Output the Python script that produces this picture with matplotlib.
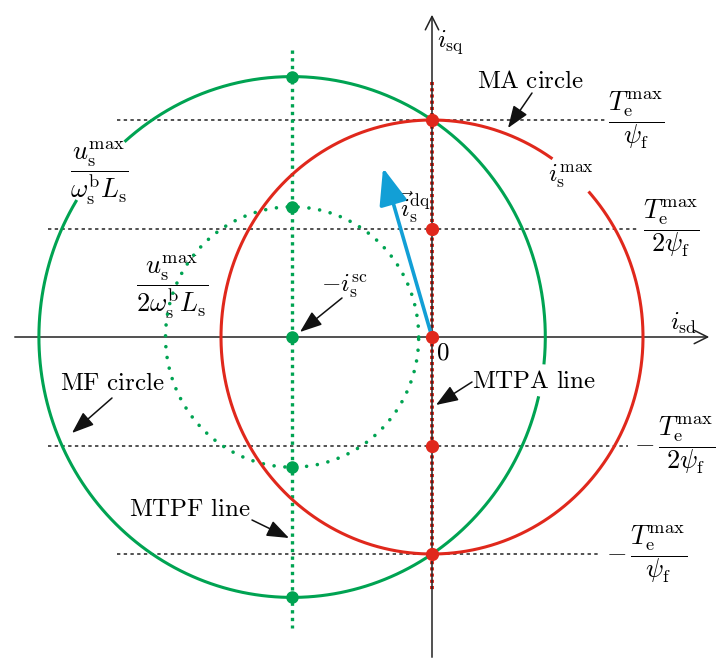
import numpy as np
import matplotlib.pyplot as plt

plt.rcParams['mathtext.fontset'] = 'cm'
plt.rcParams['font.family'] = 'DejaVu Serif'

# current-limit (MA) circle, short-circuit current and flux-limit (MF) circle
I_MAX = 1.0
I_SC = 0.663
MF_RADIUS = 1.2
MF_HALF_RADIUS = 0.6

# operating points on the MTPA line (torque levels) and MTPF line
mtpa_q = [1.0, 0.5, 0.0, -0.5, -1.0]
mtpf_q = [1.2, 0.6, 0.0, -0.6, -1.2]

# torque levels drawn as horizontal guides
torque_levels = [1.0, 0.5, -0.5, -1.0]
torque_labels = [r'$\dfrac{T_{\mathrm{e}}^{\mathrm{max}}}{\psi_{\mathrm{f}}}$',
                 r'$\dfrac{T_{\mathrm{e}}^{\mathrm{max}}}{2\psi_{\mathrm{f}}}$',
                 r'$-\,\dfrac{T_{\mathrm{e}}^{\mathrm{max}}}{2\psi_{\mathrm{f}}}$',
                 r'$-\,\dfrac{T_{\mathrm{e}}^{\mathrm{max}}}{\psi_{\mathrm{f}}}$']

# stator current vector
i_vec = (-0.232, 0.779)

GREEN = '#00a352'
RED = '#e0281c'
BLUE = '#129fd6'

fig = plt.figure(figsize=(7.16, 6.61), dpi=100)
ax = fig.add_axes([0, 0, 1, 1])
ax.set_xlim(-432 / 211, 284 / 211)
ax.set_ylim(-324 / 217, 337 / 217)
ax.axis('off')


def arc(cx, r, a0, a1):
    t = np.radians(np.linspace(a0, a1, 400))
    return cx + r * np.cos(t), r * np.sin(t)


def px(x, y):
    # pixel position -> data coordinates
    return (x - 432) / 211, (337 - y) / 217


# horizontal torque guides
guide_x = {1.0: (-1.493, 0.82), 0.5: (-1.82, 0.98), -0.5: (-1.82, 0.93), -1.0: (-1.493, 0.80)}
for lv in torque_levels:
    x0, x1 = guide_x[lv]
    ax.plot([x0, x1], [lv, lv], color='#222222', lw=1.1, ls=(0, (2.2, 2.2)), zorder=1)

# MTPA line (under the q axis) and MTPF line
ax.plot([0, 0], [1.173, -1.171], color=RED, lw=2.8, ls=(0, (0.8, 0.8)), zorder=1.5)
ax.plot([-I_SC, -I_SC], [1.323, -1.34], color=GREEN, lw=2.4, ls=(0, (1.0, 1.3)), zorder=3)

# axes
ax.annotate('', xy=px(712, 337), xytext=px(12, 337),
            arrowprops=dict(arrowstyle='->', color='#222222', lw=1.1, mutation_scale=24), zorder=2)
ax.annotate('', xy=px(432, 12), xytext=px(432, 660),
            arrowprops=dict(arrowstyle='->', color='#222222', lw=1.1, mutation_scale=24), zorder=2)

# MF circle and its half
x, y = arc(-I_SC, MF_RADIUS, -5.7, 131.1)
ax.plot(x, y, color=GREEN, lw=2.2, zorder=4)
x, y = arc(-I_SC, MF_RADIUS, 148.6, 346.5)
ax.plot(x, y, color=GREEN, lw=2.2, zorder=4)
x, y = arc(-I_SC, MF_HALF_RADIUS, 0, 360)
ax.plot(x, y, color=GREEN, lw=2.6, ls=(0, (0.01, 3.0)), dash_capstyle='round', zorder=4)

# MA circle
x, y = arc(0, I_MAX, 55.6, 401.7)
ax.plot(x, y, color=RED, lw=2.2, zorder=5)

# current vector
ax.annotate('', xy=i_vec, xytext=(0, 0),
            arrowprops=dict(arrowstyle='-|>,head_length=0.9,head_width=0.35', color=BLUE,
                            lw=2.6, mutation_scale=25, shrinkA=0, shrinkB=0), zorder=6)

# operating points
ax.plot([-I_SC] * len(mtpf_q), mtpf_q, 'o', color=GREEN, ms=8, zorder=7)
ax.plot([0] * len(mtpa_q), mtpa_q, 'o', color=RED, ms=8.5, zorder=7)

fs = 18
ffs = 19
ax.text(*px(437, 42), r'$i_{\mathrm{sq}}$', fontsize=fs, va='center', ha='left')
ax.text(*px(683, 323), r'$i_{\mathrm{sd}}$', fontsize=fs, va='center', ha='center')
ax.text(*px(443, 353), r'$0$', fontsize=fs, va='center', ha='center')
ax.text(*px(571, 177), r'$i_{\mathrm{s}}^{\mathrm{max}}$', fontsize=fs, va='center', ha='center')
ax.text(*px(415, 207), r'$\vec{i}_{\mathrm{s}}^{\mathrm{dq}}$', fontsize=fs, va='center', ha='center')
ax.text(*px(99, 173),
        r'$\dfrac{u_{\mathrm{s}}^{\mathrm{max}}}{\omega_{\mathrm{s}}^{\mathrm{b}}L_{\mathrm{s}}}$',
        fontsize=ffs, va='center', ha='center')
ax.text(*px(172, 287),
        r'$\dfrac{u_{\mathrm{s}}^{\mathrm{max}}}{2\omega_{\mathrm{s}}^{\mathrm{b}}L_{\mathrm{s}}}$',
        fontsize=ffs, va='center', ha='center')

label_x = {1.0: 636, 0.5: 671, -0.5: 675, -1.0: 647}
for lv, lab in zip(torque_levels, torque_labels):
    ax.text((label_x[lv] - 432) / 211, lv, lab, fontsize=ffs, va='center', ha='center')

# annotated curves
arrow_kw = dict(arrowstyle='-|>,head_length=0.8,head_width=0.3', color='#111111',
                lw=1.1, mutation_scale=17, shrinkA=0, shrinkB=0)
notes = [
    (r'$\mathrm{MA\ circle}$', (531, 82), (532, 93), (508, 128)),
    (r'$-i_{\mathrm{s}}^{\mathrm{sc}}$', (345, 287), (342, 298), (300, 332)),
    (r'$\mathrm{MTPA\ line}$', (534, 382), (472, 382), (436, 405)),
    (r'$\mathrm{MF\ circle}$', (112, 384), (112, 398), (72, 433)),
    (r'$\mathrm{MTPF\ line}$', (190, 510), (252, 520), (289, 538)),
]
for txt, (tx, ty), (sx, sy), (ex, ey) in notes:
    ax.text(*px(tx, ty), txt, fontsize=fs, va='center', ha='center')
    ax.annotate('', xy=px(ex, ey), xytext=px(sx, sy), arrowprops=arrow_kw)

fig.savefig('out.png', dpi=100)
